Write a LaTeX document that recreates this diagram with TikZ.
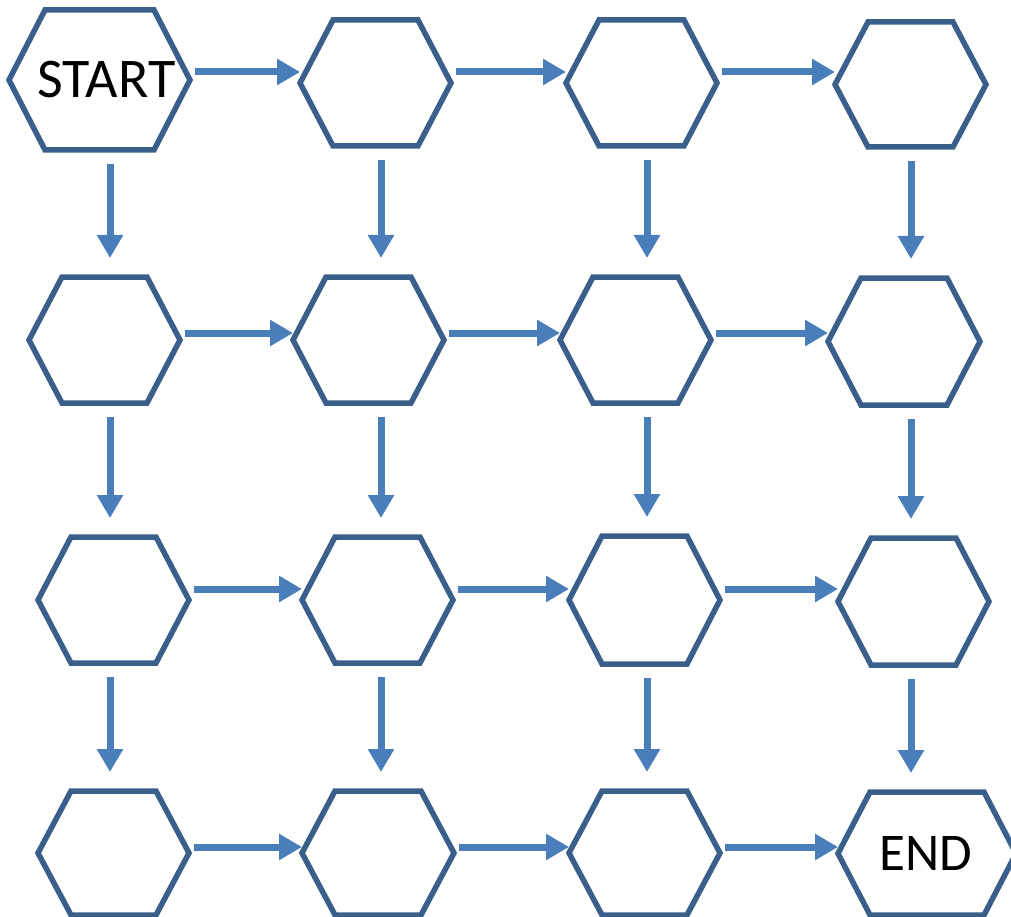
\documentclass[tikz,border=0pt]{standalone}
\usepackage{fontspec}
\setmainfont{Carlito}
\usetikzlibrary{arrows.meta,calc}
\definecolor{hexblue}{HTML}{3A5F8B}
\definecolor{arrblue}{HTML}{4A7EBB}
\tikzset{
  hexbox/.style={draw=none, inner sep=0pt, outer sep=0pt, minimum width=151pt, minimum height=126pt, font=\fontsize{56}{62}\selectfont},
  hexline/.style={draw=hexblue, line width=5.5pt, line join=miter},
  arr/.style={draw=arrblue, line width=7pt, -{Triangle[length=23pt,width=25pt]}},
  harr/.style={arr, shorten <=5pt},
  varr/.style={arr, shorten <=14pt, shorten >=19pt},
}
\newcommand{\hexdraw}[2]{%
  \draw[hexline] (#1.west) -- ([xshift=#2]#1.north west) -- ([xshift=-#2]#1.north east) -- (#1.east) -- ([xshift=-#2]#1.south east) -- ([xshift=#2]#1.south west) -- cycle;}
\begin{document}
\begin{tikzpicture}[x=1pt,y=-1pt]
\useasboundingbox (0,0) rectangle (1011,917);
% hexagon nodes
\node[hexbox, minimum width=181pt, minimum height=140pt] (h11) at (99.5,80) {\hspace*{14pt}\raisebox{-3pt}{START}};
\node[hexbox] (h12) at (375.5,83) {};
\node[hexbox] (h13) at (641.5,83) {};
\node[hexbox, minimum height=125pt] (h14) at (910.5,84.5) {};
\node[hexbox] (h21) at (104.5,340) {};
\node[hexbox] (h22) at (368.5,340) {};
\node[hexbox] (h23) at (635.5,340) {};
\node[hexbox, minimum width=152pt, minimum height=127pt] (h24) at (904,341.5) {};
\node[hexbox] (h31) at (113.5,600) {};
\node[hexbox] (h32) at (377.5,600) {};
\node[hexbox, minimum height=128pt] (h33) at (644.5,600) {};
\node[hexbox, minimum height=127pt] (h34) at (913.5,601.5) {};
\node[hexbox, minimum height=124pt] (h41) at (113.5,853) {};
\node[hexbox, minimum width=152pt, minimum height=124pt] (h42) at (378,853) {};
\node[hexbox, minimum height=124pt] (h43) at (644.5,853) {};
\node[hexbox, minimum width=178pt, minimum height=123pt, font=\fontsize{53}{60}\selectfont] (h44) at (927,853.5) {\hspace*{-3pt}END};
\hexdraw{h11}{36pt}
\foreach \n in {h12,h13,h14,h21,h22,h23,h24,h31,h32,h33,h34,h41,h42,h43}{\hexdraw{\n}{33pt}}
\hexdraw{h44}{32pt}
% arrow lines
\coordinate (c1) at (110,0);
\coordinate (c2) at (381,0);
\coordinate (c3) at (647,0);
\coordinate (c4) at (911,0);
\coordinate (r1) at (0,72);
\coordinate (r2) at (0,333);
\coordinate (r3) at (0,589);
\coordinate (r4) at (0,847);
% horizontal connectors
\foreach \r in {1,2,3,4}{
  \draw[harr] (h\r1.east |- r\r) -- (h\r2.west |- r\r);
  \draw[harr] (h\r2.east |- r\r) -- (h\r3.west |- r\r);
  \draw[harr] (h\r3.east |- r\r) -- (h\r4.west |- r\r);
}
% vertical connectors
\foreach \c in {1,2,3,4}{
  \draw[varr] (c\c |- h1\c.south) -- (c\c |- h2\c.north);
  \draw[varr] (c\c |- h2\c.south) -- (c\c |- h3\c.north);
  \draw[varr] (c\c |- h3\c.south) -- (c\c |- h4\c.north);
}
\end{tikzpicture}
\end{document}
